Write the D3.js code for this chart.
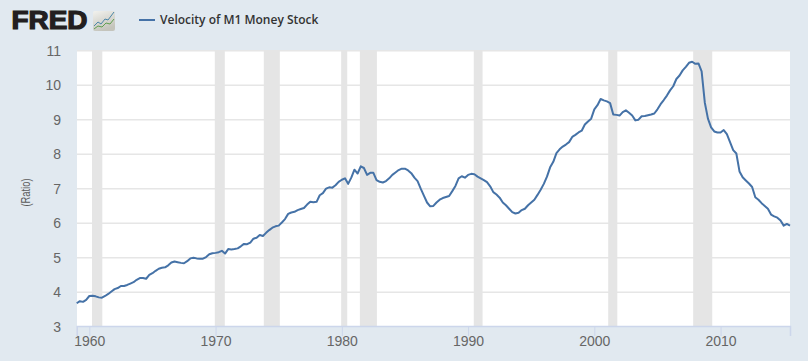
<!DOCTYPE html>
<html>
  <head>
    <meta charset="utf-8">
    <script src="https://d3js.org/d3.v7.min.js"></script>
    <style type="text/css">
      html, body { margin: 0; padding: 0; background: #e1e9f0; }
      svg { display: block; }
      .axis text { font-family: "Liberation Sans", Arial, sans-serif; font-size: 14px; fill: #666666; }
      .legend { font-family: "Open Sans", sans-serif; font-size: 12px; font-weight: 600; fill: #333333; }
      .logo { font-family: "Liberation Sans", Arial, sans-serif; font-size: 25px; font-weight: bold; fill: #231f20; stroke: #231f20; stroke-width: 1.2px; }
      .ylabel { font-family: "Liberation Sans", Arial, sans-serif; font-size: 12.5px; fill: #5a5a5a; }
    </style>
  </head>
  <body>
    <div class="plot_canvas"></div>
    <script>
      var col_bg = "#e1e9f0";
      var col_line = "#4572a7";
      var col_grid = "#e6e6e6";
      var col_axis = "#ccd6eb";
      var col_rec = "#e5e5e5";

      var seriesName = "Velocity of M1 Money Stock";
      var yLabel = "(Ratio)";
      var startYear = 1959;
      var yTicks = [3, 4, 5, 6, 7, 8, 9, 10, 11];
      var xTicks = [1960, 1970, 1980, 1990, 2000, 2010];

      // recession bands, decimal years
      var recStart = [1960.21, 1969.94, 1973.82, 1979.95, 1981.43, 1990.45, 2001.1, 2007.83];
      var recEnd = [1961.03, 1970.73, 1975.09, 1980.43, 1982.78, 1991.15, 2001.82, 2009.34];

      // quarterly, first value is 1959 Q1
      var velocity = [
        3.68, 3.74, 3.72, 3.78,
        3.89, 3.90, 3.88, 3.85,
        3.84, 3.89, 3.95, 4.02,
        4.09, 4.12, 4.18, 4.18,
        4.21, 4.25, 4.29, 4.36,
        4.41, 4.41, 4.39, 4.50,
        4.55, 4.62, 4.68, 4.71,
        4.72, 4.78, 4.86, 4.89,
        4.87, 4.85, 4.84, 4.90,
        4.98, 5.00, 4.98, 4.97,
        4.97, 5.02, 5.10, 5.13,
        5.14, 5.16, 5.20, 5.12,
        5.25, 5.24, 5.25, 5.27,
        5.33, 5.40, 5.39, 5.44,
        5.55, 5.58, 5.66, 5.63,
        5.72, 5.80, 5.87, 5.91,
        5.93, 6.02, 6.12, 6.27,
        6.31, 6.33, 6.38, 6.41,
        6.44, 6.54, 6.62, 6.61,
        6.62, 6.81, 6.87, 7.00,
        7.04, 7.03, 7.10, 7.20,
        7.26, 7.30, 7.14, 7.32,
        7.55, 7.44, 7.65, 7.60,
        7.40, 7.46, 7.46, 7.25,
        7.20, 7.18, 7.22, 7.30,
        7.40, 7.47, 7.54, 7.58,
        7.58, 7.53, 7.45, 7.32,
        7.22, 7.00, 6.80, 6.60,
        6.49, 6.50, 6.60, 6.68,
        6.73, 6.76, 6.79, 6.93,
        7.08, 7.30, 7.36, 7.32,
        7.40, 7.43, 7.42, 7.35,
        7.30, 7.25, 7.19, 7.07,
        6.90, 6.83, 6.74, 6.60,
        6.52, 6.42, 6.32, 6.28,
        6.30, 6.38, 6.42, 6.52,
        6.60, 6.68, 6.82, 6.97,
        7.14, 7.35, 7.62, 7.78,
        8.03, 8.14, 8.22, 8.28,
        8.35, 8.50, 8.56, 8.63,
        8.68, 8.86, 8.95, 9.03,
        9.30, 9.42, 9.60, 9.56,
        9.53, 9.48, 9.15, 9.14,
        9.12, 9.22, 9.27, 9.20,
        9.12, 8.98, 9.00, 9.10,
        9.11, 9.13, 9.15, 9.18,
        9.30, 9.45, 9.57, 9.70,
        9.85, 9.97, 10.18, 10.28,
        10.43, 10.53, 10.65, 10.68,
        10.62, 10.63, 10.40, 9.50,
        9.03, 8.78, 8.66, 8.63,
        8.63, 8.70, 8.58, 8.35,
        8.12, 8.02, 7.50, 7.33,
        7.24, 7.15, 7.05, 6.75,
        6.68, 6.58, 6.50, 6.42,
        6.25, 6.20, 6.16, 6.08,
        5.93, 5.98, 5.93
      ];

      var width = 808;
      var height = 361;
      var margin = {top: 50, right: 18, bottom: 35, left: 77};
      var plotBottom = height - margin.bottom;

      var xScale = d3.scaleLinear()
      .domain([startYear, 2015.5])
      .range([margin.left - 0.3, width - margin.right]);

      var yScale = d3.scaleLinear()
      .domain([3, 11])
      .range([326.7, 50.7]);

      var line = d3.line()
      .x(function(d, i) { return xScale(startYear + i / 4); })
      .y(function(d) { return yScale(d); });

      var svg = d3.select(".plot_canvas")
      .append("svg")
      .attr("width", width)
      .attr("height", height)
      .style("background", col_bg);

      // plot background
      svg.append("rect")
      .attr("x", margin.left)
      .attr("y", margin.top)
      .attr("width", width - margin.left - margin.right)
      .attr("height", plotBottom - margin.top)
      .attr("fill", "#ffffff");

      // grid
      svg.append("g").selectAll("line")
      .data(yTicks.slice(1)).enter()
      .append("line")
      .attr("x1", margin.left)
      .attr("x2", width - margin.right)
      .attr("y1", function(d) { return yScale(d); })
      .attr("y2", function(d) { return yScale(d); })
      .attr("stroke", col_grid)
      .attr("stroke-width", 1.5);

      // recessions
      svg.append("g").selectAll("rect")
      .data(recStart).enter()
      .append("rect")
      .attr("x", function(d) { return xScale(d); })
      .attr("y", margin.top)
      .attr("width", function(d, i) { return xScale(recEnd[i]) - xScale(d); })
      .attr("height", plotBottom - margin.top)
      .attr("fill", col_rec);

      // y axis
      var yAxis = d3.axisLeft(yScale)
      .tickValues(yTicks)
      .tickSize(0)
      .tickPadding(16)
      .tickFormat(d3.format("d"));

      var gy = svg.append("g")
      .attr("class", "axis")
      .attr("transform", "translate(" + margin.left + ",0)")
      .call(yAxis);
      gy.select(".domain").remove();

      // x axis
      var xAxis = d3.axisBottom(xScale)
      .tickValues(xTicks)
      .tickSizeOuter(0)
      .tickSize(10)
      .tickPadding(0)
      .tickFormat(d3.format("d"));

      var gx = svg.append("g")
      .attr("class", "axis")
      .attr("transform", "translate(0," + plotBottom + ")")
      .call(xAxis);
      gx.select(".domain").attr("stroke", col_axis).attr("stroke-width", 1.5);
      gx.selectAll(".tick line").attr("stroke", col_axis);

      // series
      svg.append("path")
      .attr("fill", "none")
      .attr("stroke", col_line)
      .attr("stroke-width", 2)
      .attr("stroke-linejoin", "round")
      .attr("d", line(velocity));

      // y label
      svg.append("text")
      .attr("class", "ylabel")
      .attr("text-anchor", "middle")
      .attr("textLength", 28)
      .attr("lengthAdjust", "spacingAndGlyphs")
      .attr("transform", "translate(29.5,192.5) rotate(-90)")
      .text(yLabel);

      // legend
      svg.append("line")
      .attr("x1", 139)
      .attr("x2", 155)
      .attr("y1", 20)
      .attr("y2", 20)
      .attr("stroke", col_line)
      .attr("stroke-width", 2);

      svg.append("text")
      .attr("class", "legend")
      .attr("x", 160)
      .attr("y", 24)
      .text(seriesName);

      // logo
      svg.append("text")
      .attr("class", "logo")
      .attr("x", 11.5)
      .attr("y", 29)
      .attr("textLength", 76)
      .attr("lengthAdjust", "spacingAndGlyphs")
      .text("FRED");

      var grad = svg.append("defs").append("linearGradient")
      .attr("id", "logoGrad")
      .attr("x1", 0).attr("y1", 0).attr("x2", 0.4).attr("y2", 1);
      grad.append("stop").attr("offset", "0%").attr("stop-color", "#f2f2ee");
      grad.append("stop").attr("offset", "100%").attr("stop-color", "#c4c4bc");

      svg.append("rect")
      .attr("x", 93)
      .attr("y", 11)
      .attr("width", 22)
      .attr("height", 20)
      .attr("rx", 2)
      .attr("fill", "url(#logoGrad)");
      svg.append("path")
      .attr("d", "M94,26 L98,22 L101,24 L105,19 L108,20 L114,12")
      .attr("fill", "none")
      .attr("stroke", "#4a86a8")
      .attr("stroke-width", 1);
      svg.append("path")
      .attr("d", "M94,29 L98,26 L102,27 L106,23 L110,24 L114,19")
      .attr("fill", "none")
      .attr("stroke", "#5f9e4f")
      .attr("stroke-width", 1);
    </script>
  </body>
</html>
